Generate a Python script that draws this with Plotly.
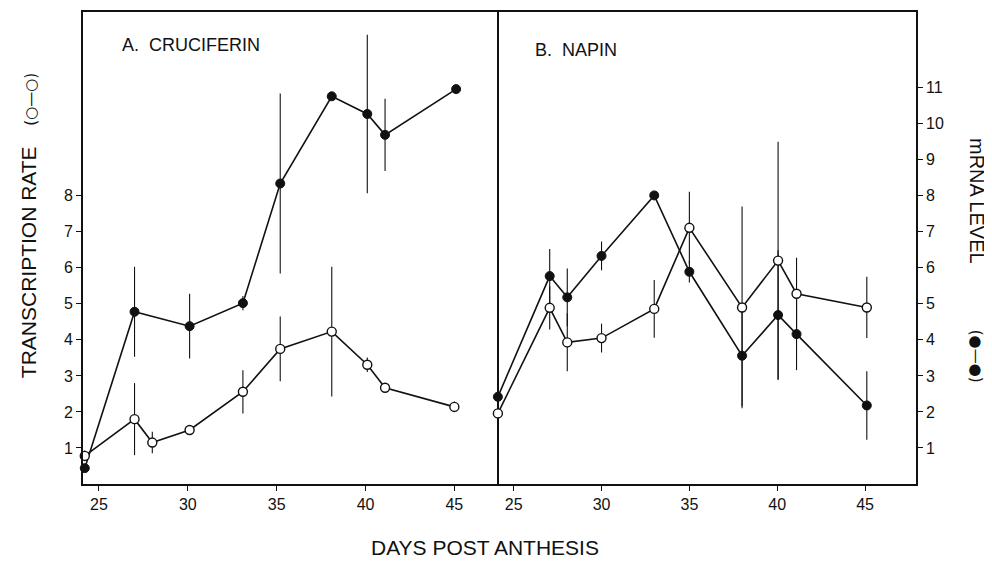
import plotly.graph_objects as go

# ---------------- data ----------------
# A. CRUCIFERIN
cruc_days_tr = [24.2, 27.0, 28.0, 30.1, 33.1, 35.2, 38.1, 40.1, 41.1, 45.0]
cruc_tr = [0.78, 1.80, 1.15, 1.50, 2.56, 3.75, 4.23, 3.31, 2.67, 2.14]
cruc_tr_err = [0.15, 1.0, 0.3, 0.0, 0.6, 0.9, 1.8, 0.2, 0.0, 0.15]

cruc_days_m = [24.2, 27.0, 30.1, 33.1, 35.2, 38.1, 40.1, 41.1, 45.1]
cruc_m = [0.44, 4.78, 4.38, 5.02, 8.34, 10.76, 10.27, 9.69, 10.96]
cruc_m_err = [0.0, 1.25, 0.9, 0.2, 2.5, 0.0, 2.2, 1.0, 0.0]

# B. NAPIN
napin_days = [24.1, 27.05, 28.05, 30.0, 33.0, 35.0, 38.0, 40.05, 41.1, 45.1]
napin_tr = [1.96, 4.89, 3.93, 4.05, 4.86, 7.11, 4.90, 6.20, 5.28, 4.90]
napin_tr_err = [0.6, 0.6, 0.8, 0.4, 0.8, 1.0, 2.8, 3.3, 1.0, 0.85]
napin_m = [2.42, 5.77, 5.18, 6.33, 8.01, 5.89, 3.56, 4.69, 4.16, 2.18]
napin_m_err = [0.3, 0.75, 0.8, 0.4, 0.0, 0.3, 1.4, 1.8, 1.0, 0.95]

x_ticks = [25, 30, 35, 40, 45]
left_y_ticks = [1, 2, 3, 4, 5, 6, 7, 8]
right_y_ticks = [1, 2, 3, 4, 5, 6, 7, 8, 9, 10, 11]

FONT = "Liberation Sans"
INK = "#111111"


def err(arr):
    return dict(type="data", array=arr, visible=True, width=0, thickness=1.1, color=INK)


open_marker = dict(symbol="circle", size=9, color="white", line=dict(color=INK, width=1.4))
filled_marker = dict(symbol="circle", size=9, color=INK, line=dict(color=INK, width=1))
line_style = dict(color=INK, width=1.6)

fig = go.Figure()

# Panel A
fig.add_trace(go.Scatter(x=cruc_days_m, y=cruc_m, mode="lines+markers", marker=filled_marker,
                         line=line_style, error_y=err(cruc_m_err), xaxis="x", yaxis="y",
                         cliponaxis=False, showlegend=False))
fig.add_trace(go.Scatter(x=cruc_days_tr, y=cruc_tr, mode="lines+markers", marker=open_marker,
                         line=line_style, error_y=err(cruc_tr_err), xaxis="x", yaxis="y",
                         cliponaxis=False, showlegend=False))
# Panel B
fig.add_trace(go.Scatter(x=napin_days, y=napin_m, mode="lines+markers", marker=filled_marker,
                         line=line_style, error_y=err(napin_m_err), xaxis="x2", yaxis="y2",
                         cliponaxis=False, showlegend=False))
fig.add_trace(go.Scatter(x=napin_days, y=napin_tr, mode="lines+markers", marker=open_marker,
                         line=line_style, error_y=err(napin_tr_err), xaxis="x2", yaxis="y2",
                         cliponaxis=False, showlegend=False))

split = 0.497
axis_common = dict(showline=True, linecolor=INK, linewidth=1.6, showgrid=False,
                   zeroline=False, ticks="outside", ticklen=5, tickwidth=1, tickcolor=INK,
                   automargin=False,
                   tickfont=dict(family=FONT, size=16, color=INK))

# the page body adds an 8 px offset, so the figure is 984 x 564
fig.update_layout(
    width=984, height=564,
    margin=dict(l=75, r=76, t=4, b=88),
    paper_bgcolor="white", plot_bgcolor="white",
    xaxis=dict(domain=[0, split], range=[24.1, 47.4], tickvals=x_ticks, anchor="y",
               mirror=True, **axis_common),
    xaxis2=dict(domain=[split, 1], range=[24.05, 47.9], tickvals=x_ticks, anchor="y2",
                mirror=True, **axis_common),
    yaxis=dict(domain=[0, 1], range=[0, 13.1], tickvals=left_y_ticks, anchor="x", side="left",
               mirror=True, **axis_common),
    yaxis2=dict(domain=[0, 1], range=[0, 13.1], tickvals=right_y_ticks, anchor="x2", side="right",
                matches="y", mirror=False, **axis_common),
)

ann_font = dict(family=FONT, size=18, color=INK)
fig.add_annotation(text="A.  CRUCIFERIN", xref="paper", yref="paper", x=0.045, y=0.93,
                   xanchor="left", yanchor="middle", showarrow=False, font=ann_font)
fig.add_annotation(text="B.  NAPIN", xref="paper", yref="paper", x=0.540, y=0.92,
                   xanchor="left", yanchor="middle", showarrow=False, font=ann_font)

fig.add_annotation(text="TRANSCRIPTION RATE", xref="paper", yref="paper", x=-0.066, y=0.47,
                   xanchor="center", yanchor="middle", textangle=-90, showarrow=False,
                   font=dict(family=FONT, size=21, color=INK))
fig.add_annotation(text="(○—○)", xref="paper", yref="paper", x=-0.062, y=0.815,
                   xanchor="center", yanchor="middle", textangle=-90, showarrow=False,
                   font=dict(family="DejaVu Sans", size=15, color=INK))
fig.add_annotation(text="mRNA LEVEL", xref="paper", yref="paper", x=1.073, y=0.60,
                   xanchor="center", yanchor="middle", textangle=90, showarrow=False,
                   font=dict(family=FONT, size=20, color=INK))
fig.add_annotation(text="(●—●)", xref="paper", yref="paper", x=1.073, y=0.27,
                   xanchor="center", yanchor="middle", textangle=90, showarrow=False,
                   font=dict(family="DejaVu Sans", size=15, color=INK))
fig.add_annotation(text="DAYS POST ANTHESIS", xref="paper", yref="paper", x=0.483, y=-0.135,
                   xanchor="center", yanchor="middle", showarrow=False,
                   font=dict(family=FONT, size=21, color=INK))

fig.write_html("out.html")
